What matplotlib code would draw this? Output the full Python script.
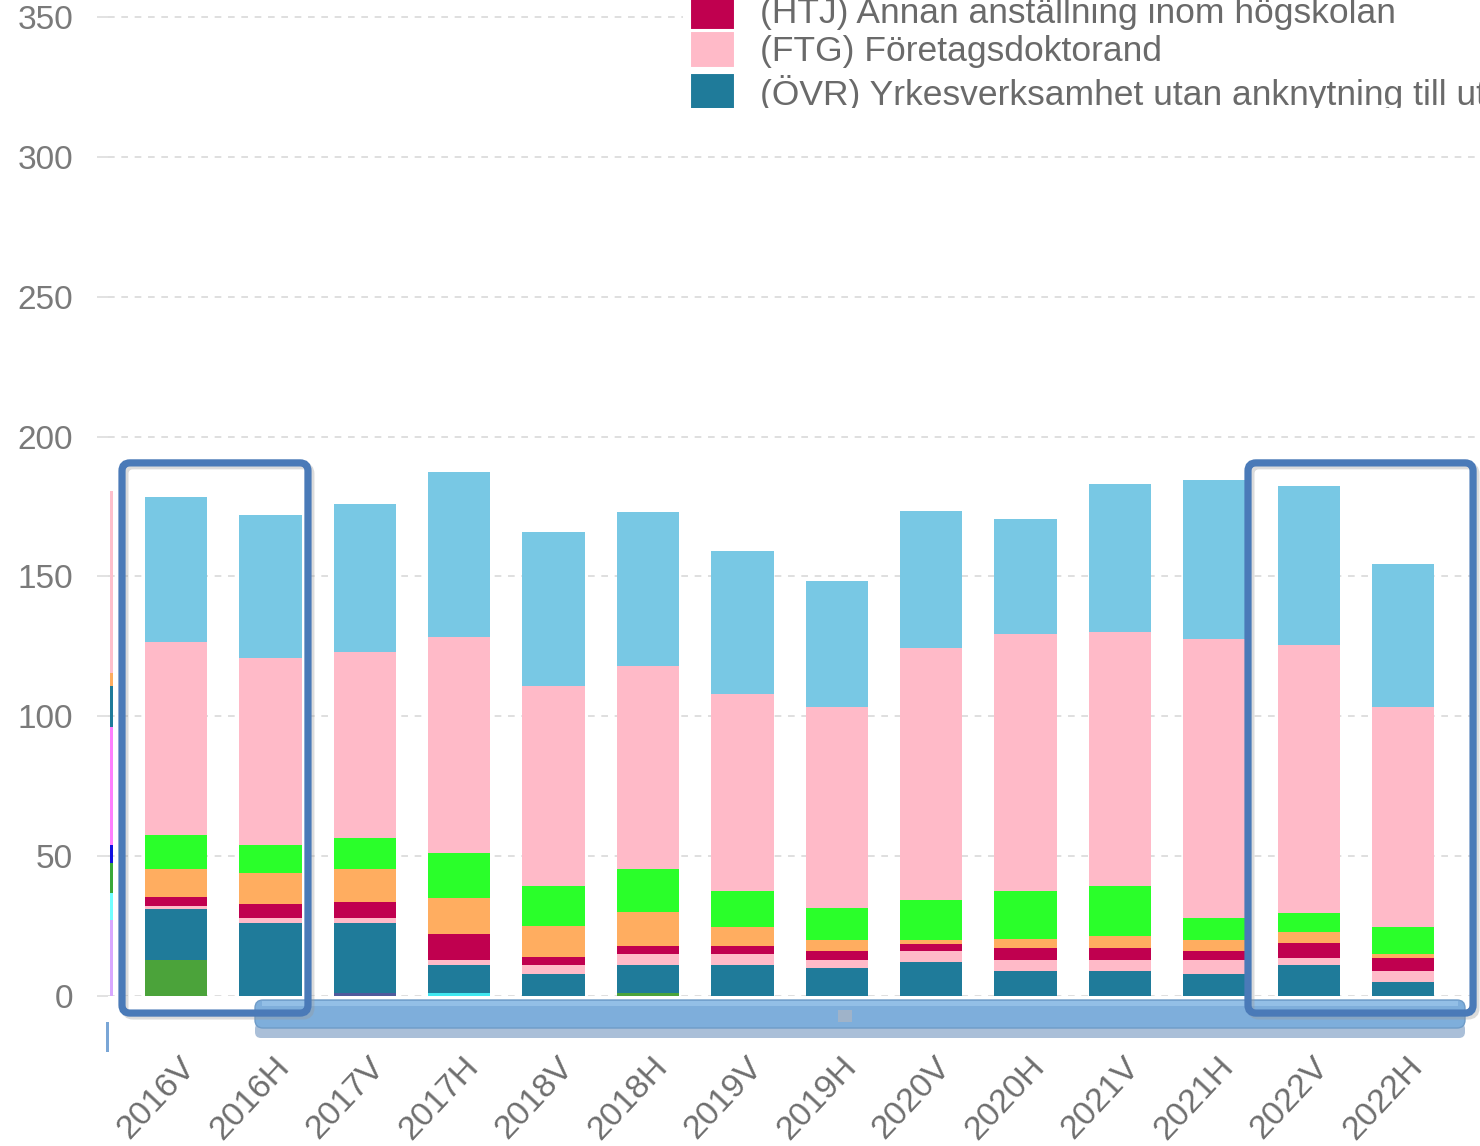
import matplotlib
matplotlib.use("Agg")
import matplotlib.pyplot as plt
from matplotlib.patches import Rectangle, FancyBboxPatch
from matplotlib.transforms import IdentityTransform, ScaledTranslation
import numpy as np

# ---------------- data ----------------
categories = ["2016V", "2016H", "2017V", "2017H", "2018V", "2018H", "2019V",
              "2019H", "2020V", "2020H", "2021V", "2021H", "2022V", "2022H"]

s_darkgreen = [13, 0, 0, 0, 0, 1, 0, 0, 0, 0, 0, 0, 0, 0]
s_slate     = [0, 0, 1, 0, 0, 0, 0, 0, 0, 0, 0, 0, 0, 0]
s_cyan      = [0, 0, 0, 1, 0, 0, 0, 0, 0, 0, 0, 0, 0, 0]
s_ovr       = [18, 26, 25, 10, 8, 10, 11, 10, 12, 9, 9, 8, 11, 5]
s_ftg       = [1, 2, 2, 2, 3, 4, 4, 3, 4, 4, 4, 5, 2.5, 4]
s_htj       = [3.5, 5, 5.5, 9, 3, 3, 3, 3, 2.5, 4, 4, 3, 5.5, 4.5]
s_orange    = [10, 11, 12, 13, 11, 12, 6.5, 4, 1.5, 3.5, 4.5, 4, 4, 1.5]
s_green     = [12, 10, 11, 16, 14.5, 15.5, 13, 11.5, 14.5, 17, 18, 8, 6.5, 9.5]
s_pink      = [69, 67, 66.5, 77.5, 71.5, 72.5, 70.5, 72, 90, 92, 90.5, 99.5, 96, 79]
s_lightblue = [52, 51, 53, 59, 55, 55, 51, 45, 49, 41, 53, 57, 57, 51]

series = [s_darkgreen, s_slate, s_cyan, s_ovr, s_ftg, s_htj, s_orange,
          s_green, s_pink, s_lightblue]
colors = ["#4ba33a", "#505a9c", "#40e8f0", "#1f7b9a", "#ffbac8", "#c0004f",
          "#ffad60", "#2aff2a", "#ffbac8", "#78c8e4"]

legend_labels = ["(HTJ) Annan anställning inom högskolan",
                 "(FTG) Företagsdoktorand",
                 "(ÖVR) Yrkesverksamhet utan anknytning till utbildningen"]
legend_colors = [colors[5], colors[4], colors[3]]

# partially visible neighbouring bar at the left edge
strip_values = [27, 10, 10.5, 6.5, 42, 15, 4.5, 65]
strip_colors = ["#d8a8ff", "#70ffff", "#3aa83a", "#1010e0", "#ff80ff",
                "#1f7b9a", "#ffad60", "#ffc0cc"]

yticks = [0, 50, 100, 150, 200, 250, 300, 350]
# (first bar, last bar, left padding, right padding) in bar-slot units
highlight_groups = [(0, 1, 0.572, 0.398), (12, 13, 0.644, 0.74)]

# ---------------- figure ----------------
W, H = 1480, 1146
DPI = 100
fig = plt.figure(figsize=(W / DPI, H / DPI), dpi=DPI)
fig.patch.set_facecolor("white")
plt.rcParams['font.family'] = ['Liberation Sans', 'DejaVu Sans']

def fr(x0, y0, x1, y1):
    """pixel box (top-left origin) -> figure fraction rect"""
    return [x0 / W, 1 - y1 / H, (x1 - x0) / W, (y1 - y0) / H]

ax = fig.add_axes(fr(108, 0, 1476, 996))
step = 94.4
x = np.arange(len(categories))
ax.set_xlim((108 - 176) / step, (1476 - 176) / step)
ax.set_ylim(0, 996 / 2.797)

bottom = np.zeros(len(categories))
for vals, c in zip(series, colors):
    ax.bar(x, vals, width=0.66, bottom=bottom, color=c, linewidth=0, zorder=3)
    bottom += np.array(vals, dtype=float)

sb = 0.0
for v, c in zip(strip_values, strip_colors):
    ax.bar([-0.683], [v], width=0.032, bottom=sb, color=c, linewidth=0, zorder=3)
    sb += v

for s in ax.spines.values():
    s.set_visible(False)
ax.set_yticks(yticks)
ax.set_yticklabels([str(v) for v in yticks], fontsize=24, color="#7a7a7a")
ax.tick_params(axis="y", length=8, width=1.2, color="#dddddd", pad=17)
ax.yaxis.grid(True, linestyle=(0, (4, 4)), color="#d9d9d9", linewidth=1.2, zorder=0)
ax.set_xticks(x)
ax.set_xticklabels(categories, fontsize=24.5, color="#6e6e6e", rotation=47,
                   ha="right", va="top", rotation_mode="anchor")
ax.tick_params(axis="x", length=0, pad=40)
for lbl in ax.get_xticklabels():
    lbl.set_transform(lbl.get_transform() +
                      ScaledTranslation(3 / DPI, 0, fig.dpi_scale_trans))

# ---------------- scrollbar ----------------
fig.patches.append(FancyBboxPatch((255, H - 1038), 1210, 15,
                                  boxstyle="round,pad=0,rounding_size=6",
                                  transform=IdentityTransform(), fc="#aabfd8", ec="none",
                                  zorder=5))
fig.patches.append(FancyBboxPatch((255, H - 1028), 1210, 28,
                                  boxstyle="round,pad=0,rounding_size=8",
                                  transform=IdentityTransform(), fc="#7eaedb", ec="#6f9cc8",
                                  lw=1, zorder=6))
fig.patches.append(Rectangle((262, H - 1006), 1196, 5, transform=IdentityTransform(),
                             fc="#93bfe6", ec="none", zorder=7))
fig.patches.append(Rectangle((838, H - 1022), 14, 12, transform=IdentityTransform(),
                             fc="#9fb3c9", ec="none", zorder=7))
fig.patches.append(Rectangle((106, H - 1052), 3, 30, transform=IdentityTransform(),
                             fc="#7aa6d6", ec="none", zorder=7))

# ---------------- highlight boxes ----------------
fig.canvas.draw()
for i0, i1, lp, rp in highlight_groups:
    (xa, ya) = ax.transData.transform((i0 - lp, -6.1))
    (xb, yb) = ax.transData.transform((i1 + rp, 190.6))
    shadow = FancyBboxPatch((xa + 3, ya - 3), xb - xa, yb - ya,
                            boxstyle="round,pad=0,rounding_size=8",
                            transform=IdentityTransform(), fc="none",
                            ec="#999999", lw=5, alpha=0.35, zorder=8)
    box = FancyBboxPatch((xa, ya), xb - xa, yb - ya,
                         boxstyle="round,pad=0,rounding_size=8",
                         transform=IdentityTransform(), fc="none",
                         ec="#4a7ab8", lw=5.2, zorder=9)
    fig.patches.append(shadow)
    fig.patches.append(box)

# ---------------- legend (clipped, as in the reference) ----------------
lax = fig.add_axes(fr(683, 0, 1480, 108))
lax.set_facecolor("white")
lax.set_xlim(0, 797)
lax.set_ylim(108, 0)
lax.set_axis_off()
lax.add_patch(Rectangle((0, 0), 797, 108, fc="white", ec="none", zorder=0))
row_y = [12, 50, 92]
for yy, lab, c in zip(row_y, legend_labels, legend_colors):
    lax.add_patch(Rectangle((7, yy - 19), 45, 37, fc=c, ec="white", lw=1.5,
                            zorder=2, clip_on=True))
    lax.text(77, yy + 1, lab, fontsize=25.5, color="#6a6a6a", va="center",
             ha="left", clip_on=True, zorder=3)

fig.savefig("out.png", dpi=DPI, facecolor="white")
